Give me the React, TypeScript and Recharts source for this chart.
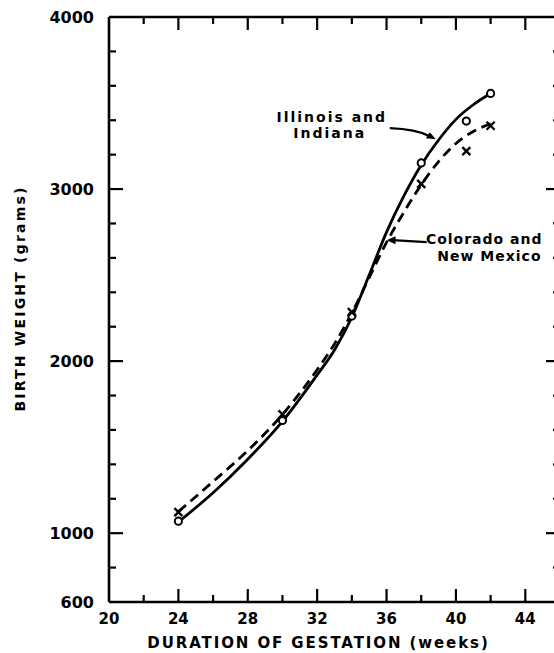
import React from 'react';
import { ComposedChart, Line, Scatter, XAxis, YAxis, ReferenceDot, Label } from 'recharts';

const FONT = '"DejaVu Sans", Verdana, sans-serif';

// Axis ticks and labels
const xTicks = [20, 22, 24, 26, 28, 30, 32, 34, 36, 38, 40, 42, 44, 46];
const xLabels = [20, 24, 28, 32, 36, 40, 44];
const yTicks = [600, 800, 1000, 1200, 1400, 1600, 1800, 2000, 2200, 2400, 2600, 2800, 3000, 3200, 3400, 3600, 3800, 4000];
const yLabels = [600, 1000, 2000, 3000, 4000];

// Smoothed curves
const curveWeeks = [24, 26, 28, 30, 32, 33, 34, 35, 36, 37, 38, 39, 40, 41, 42];
const illinoisCurve = [1065, 1235, 1430, 1650, 1920, 2065, 2255, 2500, 2750, 2960, 3140, 3285, 3405, 3490, 3555];
const coloradoCurve = [1125, 1300, 1480, 1690, 1950, 2100, 2280, 2485, 2690, 2865, 3025, 3160, 3265, 3335, 3380];

// Observed points
const obsWeeks = [24, 30, 34, 38, 40.6, 42];
const illinoisObs = [1070, 1655, 2262, 3152, 3395, 3556];
const coloradoObs = [1122, 1690, 2285, 3030, 3221, 3368];

const illinoisLine = curveWeeks.map((x, i) => ({ x, y: illinoisCurve[i] }));
const coloradoLine = curveWeeks.map((x, i) => ({ x, y: coloradoCurve[i] }));
const illinoisPts = obsWeeks.map((x, i) => ({ x, y: illinoisObs[i] }));
const coloradoPts = obsWeeks.map((x, i) => ({ x, y: coloradoObs[i] }));

const INK = '#000';

const textStyle = { fontFamily: FONT, fontWeight: 700, fill: INK, whiteSpace: 'pre' } as const;

function BottomTick(props: any) {
  const { x, y, payload } = props;
  const v = payload.value;
  const major = v % 4 === 0;
  const len = major ? 13 : 7;
  const show = v !== 20 && v !== 46;
  return (
    <g>
      {show && <line x1={x} y1={y} x2={x} y2={y - len} stroke={INK} strokeWidth={2.2} />}
      {xLabels.includes(v) && (
        <text x={x} y={y + 22} textAnchor="middle" fontSize={15} style={textStyle}>{v}</text>
      )}
    </g>
  );
}

function TopTick(props: any) {
  const { x, y, payload } = props;
  const v = payload.value;
  const major = v % 4 === 0;
  const len = major ? 13 : 7;
  const show = v !== 20 && v !== 46;
  return <g>{show && <line x1={x} y1={y} x2={x} y2={y + len} stroke={INK} strokeWidth={2.2} />}</g>;
}

function LeftTick(props: any) {
  const { x, y, payload } = props;
  const v = payload.value;
  const major = v % 1000 === 0;
  const len = major ? 14 : 7;
  const show = v !== 600 && v !== 4000;
  return (
    <g>
      {show && <line x1={x} y1={y} x2={x + len} y2={y} stroke={INK} strokeWidth={2.2} />}
      {yLabels.includes(v) && (
        <text x={x - 15} y={y + 6} textAnchor="end" fontSize={16} style={textStyle}>{v}</text>
      )}
    </g>
  );
}

function RightTick(props: any) {
  const { x, y, payload } = props;
  const v = payload.value;
  const major = v % 1000 === 0;
  const len = major ? 14 : 7;
  const show = v !== 600 && v !== 4000;
  return <g>{show && <line x1={x} y1={y} x2={x - len} y2={y} stroke={INK} strokeWidth={2.2} />}</g>;
}

function CircleMark(props: any) {
  const { cx, cy } = props;
  return <circle cx={cx} cy={cy} r={3.6} fill="#fff" stroke={INK} strokeWidth={2} />;
}

function CrossMark(props: any) {
  const { cx, cy } = props;
  const s = 4;
  return (
    <g stroke={INK} strokeWidth={2.4}>
      <line x1={cx - s} y1={cy - s} x2={cx + s} y2={cy + s} />
      <line x1={cx - s} y1={cy + s} x2={cx + s} y2={cy - s} />
    </g>
  );
}

function IllinoisNote(props: any) {
  const { cx, cy } = props;
  const sx = cx - 46;
  const sy = cy - 11;
  return (
    <g>
      <path d={`M ${sx} ${sy} Q ${cx - 20} ${cy - 10} ${cx - 6} ${cy - 3}`} fill="none" stroke={INK} strokeWidth={2.2} />
      <path d={`M ${cx} ${cy} L ${cx - 10} ${cy - 1} L ${cx - 6} ${cy - 7} Z`} fill={INK} />
      <text x={cx - 104} y={cy - 17} textAnchor="middle" fontSize={14} letterSpacing={2} style={textStyle}>Illinois and</text>
      <text x={cx - 106} y={cy - 1} textAnchor="middle" fontSize={14} letterSpacing={2} style={textStyle}>Indiana</text>
    </g>
  );
}

function ColoradoNote(props: any) {
  const { cx, cy } = props;
  return (
    <g>
      <line x1={cx + 6} y1={cy} x2={cx + 40} y2={cy + 2} stroke={INK} strokeWidth={2.2} />
      <path d={`M ${cx} ${cy} L ${cx + 9} ${cy - 4} L ${cx + 9} ${cy + 4} Z`} fill={INK} />
      <text x={cx + 156} y={cy + 4} textAnchor="end" fontSize={14} letterSpacing={1} style={textStyle}>Colorado and</text>
      <text x={cx + 155} y={cy + 21} textAnchor="end" fontSize={14} letterSpacing={1} style={textStyle}>New Mexico</text>
    </g>
  );
}

function XTitle(props: any) {
  const vb = props.viewBox || {};
  const cx = vb.x + vb.width / 2 - 16;
  return (
    <text x={cx} y={vb.y + 46} textAnchor="middle" fontSize={15} letterSpacing={1.9} style={textStyle}>
      DURATION OF GESTATION (weeks)
    </text>
  );
}

function YTitle(props: any) {
  const vb = props.viewBox || {};
  const cy = vb.y + vb.height / 2 - 11;
  const cx = 20;
  return (
    <text x={cx} y={cy} textAnchor="middle" fontSize={14} letterSpacing={2.2} transform={`rotate(-90 ${cx} ${cy})`} dy={5} style={textStyle}>
      BIRTH WEIGHT (grams)
    </text>
  );
}

export default function App() {
  return (
    <div style={{ position: 'absolute', left: 0, top: 0, width: 554, height: 653, overflow: 'hidden', background: '#fff' }}>
      <ComposedChart width={580} height={653} margin={{ top: 16, right: 19, bottom: 0, left: 0 }}>
        <XAxis
          xAxisId="b"
          dataKey="x"
          type="number"
          domain={[20, 46]}
          ticks={xTicks}
          interval={0}
          allowDataOverflow
          height={51}
          orientation="bottom"
          axisLine={{ stroke: INK, strokeWidth: 2.6 }}
          tickLine={false}
          tickSize={0}
          tickMargin={0}
          tick={<BottomTick />}
        >
          <Label content={<XTitle />} />
        </XAxis>
        <XAxis
          xAxisId="t"
          dataKey="x"
          type="number"
          domain={[20, 46]}
          ticks={xTicks}
          interval={0}
          allowDataOverflow
          height={1}
          orientation="top"
          axisLine={{ stroke: INK, strokeWidth: 2.6 }}
          tickLine={false}
          tickSize={0}
          tickMargin={0}
          tick={<TopTick />}
        />
        <YAxis
          yAxisId="l"
          type="number"
          domain={[600, 4000]}
          ticks={yTicks}
          interval={0}
          allowDataOverflow
          width={109}
          orientation="left"
          axisLine={{ stroke: INK, strokeWidth: 2.6 }}
          tickLine={false}
          tickSize={0}
          tickMargin={0}
          tick={<LeftTick />}
        >
          <Label content={<YTitle />} />
        </YAxis>
        <YAxis
          yAxisId="r"
          type="number"
          domain={[600, 4000]}
          ticks={yTicks}
          interval={0}
          allowDataOverflow
          width={1}
          orientation="right"
          axisLine={{ stroke: INK, strokeWidth: 2.6 }}
          tickLine={false}
          tickSize={0}
          tickMargin={0}
          tick={<RightTick />}
        />
        <Line
          xAxisId="b"
          yAxisId="l"
          data={illinoisLine}
          dataKey="y"
          type="monotone"
          stroke={INK}
          strokeWidth={2.8}
          dot={false}
          isAnimationActive={false}
        />
        <Line
          xAxisId="b"
          yAxisId="l"
          data={coloradoLine}
          dataKey="y"
          type="monotone"
          stroke={INK}
          strokeWidth={2.8}
          strokeDasharray="10 6"
          dot={false}
          isAnimationActive={false}
        />
        <Scatter xAxisId="b" yAxisId="l" data={illinoisPts} dataKey="y" shape={<CircleMark />} isAnimationActive={false} />
        <Scatter xAxisId="b" yAxisId="l" data={coloradoPts} dataKey="y" shape={<CrossMark />} isAnimationActive={false} />
        <ReferenceDot xAxisId="b" yAxisId="l" x={38.84} y={3290} r={0} shape={<IllinoisNote />} />
        <ReferenceDot xAxisId="b" yAxisId="l" x={36.0} y={2703} r={0} shape={<ColoradoNote />} />
      </ComposedChart>
    </div>
  );
}
